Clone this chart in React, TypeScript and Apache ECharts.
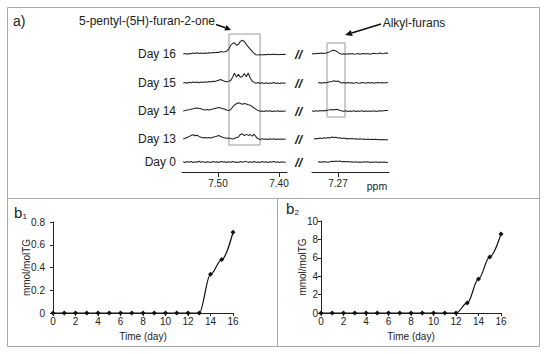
import React, { useEffect, useRef } from 'react';
import * as echarts from 'echarts';

// ---------- Panel a) : 1H NMR traces ----------
const DAY_LABELS = ['Day 16', 'Day 15', 'Day 14', 'Day 13', 'Day 0'];
const LEFT_TICKS = [7.5, 7.4];
const RIGHT_TICKS = [7.27];
const LEFT_PPM = [7.557, 7.389]; // first / last sample of the left window
const RIGHT_PPM = [7.3126, 7.188]; // first / last sample of the right window

// intensities (left window 7.56 – 7.39 ppm)
const LEFT_D16 = [0, 0.5, -0.3, 0.6, 0.2, 1.0, 0.5, 1.2, 0.6, 0.9,
  0.4, 1.1, 0.7, 1.3, 1.0, 1.6, 1.2, 1.8, 1.5, 2.4,
  1.9, 2.2, 2.8, 4.5, 8.5, 10.5, 11.2, 8.8, 9.5, 12.6,
  13.8, 12.5, 9.6, 7.2, 4.8, 2.6, 0.6, -0.8, -1.0, -0.6,
  -0.9, -0.4, -0.8, -0.3, -0.7, -0.2, -0.6, -0.3, -0.8, -0.4,
  -0.5, -0.2, -0.6];
const LEFT_D15 = [0, 0.6, -0.2, 0.8, 0.3, 1.0, 0.4, 0.9, 0.2, 1.1,
  0.6, 1.3, 0.8, 1.5, 1.0, 1.8, 1.4, 2.2, 2.8, 3.4,
  2.6, 1.8, 1.2, 1.6, 2.4, 5.5, 9.8, 6.0, 8.8, 5.8,
  6.5, 9.4, 6.2, 10.0, 5.0, 1.8, 0.6, -0.2, 0.4, -0.5,
  0.3, -0.4, 0.2, -0.6, 0.1, -0.3, 0.4, -0.5, 0.0, -0.4,
  0.2, -0.3, 0.1];
const LEFT_D14 = [0, 0.4, 0.9, 1.3, 1.8, 2.2, 2.8, 3.0, 2.6, 2.2,
  1.6, 1.1, 1.4, 0.9, 1.6, 2.0, 2.6, 3.0, 3.4, 3.0,
  2.4, 1.8, 1.0, 0.6, 1.2, 3.8, 6.0, 7.2, 8.2, 7.6,
  6.8, 7.5, 7.0, 6.2, 5.8, 4.4, 3.0, 1.6, 0.4, -0.2,
  0.1, -0.4, 0.2, -0.3, 0.3, -0.5, 0.0, -0.3, 0.2, -0.4,
  0.1, -0.2, 0.0];
const LEFT_D13 = [0, 0.8, 1.6, 2.4, 3.6, 4.2, 3.2, 3.8, 2.6, 1.8,
  1.2, 1.6, 0.9, 1.4, 1.0, 1.8, 2.2, 2.8, 3.4, 2.6,
  1.8, 1.2, 0.8, 1.0, 0.4, 0.0, 0.6, 1.4, 2.0, 4.6,
  5.2, 3.4, 4.6, 3.6, 4.4, 2.8, 4.8, 2.0, 0.2, -0.4,
  0.2, -0.3, 0.1, -0.5, 0.2, -0.2, 0.3, -0.4, 0.0, -0.3,
  0.1, -0.2, 0.0];
const LEFT_D0 = [0.3, -0.4, 0.5, -0.2, 0.6, -0.5, 0.2, -0.3, 0.7, -0.2,
  0.4, -0.6, 0.3, 0.1, -0.4, 0.5, -0.3, 0.2, -0.5, 0.6,
  -0.1, 0.3, -0.4, 0.2, -0.3, 0.5, -0.2, 0.1, -0.5, 0.4,
  -0.3, 0.2, 0.6, -0.4, 0.3, -0.2, 0.5, -0.3, 0.1, -0.4,
  0.4, -0.2, 0.3, -0.5, 0.2, -0.1, 0.4, -0.3, 0.2, -0.4,
  0.3, -0.2, 0.1];

// intensities (right window 7.31 – 7.19 ppm)
const RIGHT_D16 = [0, 0.5, 0.2, 0.8, 0.4, 0.9, 0.6, 1.0, 1.4, 2.4,
  3.4, 3.8, 3.0, 1.6, 0.4, -0.2, 0.3, -0.3, 0.2, -0.1,
  0.4, -0.2, 0.1, 0.5, -0.3, 0.2, 0.6, 0.1, 0.4, -0.2,
  0.3, 0.7, 0.2, 0.5, 0.9, 0.3, 0.6, 1.0, 0.8];
const RIGHT_D15 = [null, null, null, 0, 0.4, -0.2, 0.5, 0.3, 0.8, 1.2,
  1.6, 2.2, 1.4, 2.0, 0.6, -0.1, 0.4, -0.3, 0.5, 0.0,
  0.3, -0.4, 0.6, 0.1, -0.2, 0.5, 0.2, -0.3, 0.4, 0.0,
  0.5, -0.2, 0.3, 0.6, 0.0, 0.4, -0.1, 0.3, 0.5];
const RIGHT_D14 = [0, -0.3, 0.2, -0.2, 0.4, 0.1, 0.6, 0.3, 0.9, 1.2,
  1.6, 1.0, 1.8, 1.2, 0.5, 0.1, -0.3, 0.2, -0.4, 0.0,
  -0.2, 0.3, -0.4, 0.1, -0.2, 0.2, -0.5, 0.0, -0.3, 0.1,
  -0.2, 0.2, -0.4, 0.0, 0.3, -0.1, 0.2, 0.4, 0.5];
const RIGHT_D13 = [null, 0, 0.6, 0.3, 1.0, 0.5, 1.3, 0.8, 1.6, 1.1,
  2.0, 1.4, 1.8, 0.9, 1.2, 0.5, 0.9, 0.3, 0.6, 0.2,
  0.4, 0.0, 0.3, -0.2, 0.2, -0.3, 0.1, -0.4, 0.0, -0.5,
  -0.2, -0.6, -0.3, -0.7, -0.4, -0.8, -0.5, -0.9, -0.6];
const RIGHT_D0 = [null, null, null, 0, 0.3, -0.2, 0.4, 0.1, -0.3, 0.2,
  0.8, 0.4, 1.0, 0.5, 0.9, 0.3, 0.6, 0.2, 0.5, 0.0,
  0.3, -0.2, 0.2, -0.3, 0.1, -0.2, 0.3, -0.1, 0.2, -0.4,
  0.0, -0.3, 0.2, -0.4, -0.1, -0.3, 0.1, -0.4, -0.2];

// highlighted regions [ppm from, ppm to]
const BOX_LEFT_PPM = [7.482, 7.431];
const BOX_RIGHT_PPM = [7.288, 7.2585];

// ---------- Panels b1 / b2 ----------
const DAYS = [0, 1, 2, 3, 4, 5, 6, 7, 8, 9, 10, 11, 12, 13, 14, 15, 16];
const B1_VALUES = [0, 0, 0, 0, 0, 0, 0, 0, 0, 0, 0, 0, 0, 0, 0.34, 0.47, 0.71];
const B2_VALUES = [0, 0, 0, 0, 0, 0, 0, 0, 0, 0, 0, 0, 0, 1.09, 3.7, 6.1, 8.6];

// ---------- layout ----------
const ROW_OFFSETS = [118, 89, 61, 33, 10]; // vertical stacking of traces (axis units = px)
const SPEC_TOP = 30;
const SPEC_H = 142;
const FONT = '"Liberation Sans", Arial, sans-serif';
const INK = '#222';
const FRAME = '#a8a8a8';

function ppmGrid(range: number[], n: number) {
  const out: number[] = [];
  for (let i = 0; i < n; i++) out.push(range[0] + (range[1] - range[0]) * i / (n - 1));
  return out;
}

function traceData(vals: (number | null)[], range: number[], off: number) {
  const xs = ppmGrid(range, vals.length);
  return vals.map((v, i) => [xs[i], v == null ? '-' : off + v]);
}

function txt(x: number, y: number, text: string, size: number, align = 'left', extra: any = {}) {
  return {
    type: 'text', x, y, silent: true,
    style: {
      text, fontSize: size, fontFamily: FONT, fill: INK,
      align, verticalAlign: 'middle', textAlign: align, textVerticalAlign: 'middle',
      ...extra,
    },
  };
}

function line(x1: number, y1: number, x2: number, y2: number, stroke = FRAME, w = 1) {
  return { type: 'line', silent: true, shape: { x1, y1, x2, y2 }, style: { stroke, lineWidth: w } };
}

export default function App() {
  const ref = useRef<HTMLDivElement>(null);
  useEffect(() => {
    if (!ref.current) return;
    const chart = echarts.init(ref.current, null, { renderer: 'svg' });

    const leftSets = [LEFT_D16, LEFT_D15, LEFT_D14, LEFT_D13, LEFT_D0];
    const rightSets = [RIGHT_D16, RIGHT_D15, RIGHT_D14, RIGHT_D13, RIGHT_D0];
    const specLine = { color: '#222', width: 1.05 };
    const boxStyle = { color: 'rgba(0,0,0,0)', borderColor: '#9a9a9a', borderWidth: 1 };

    const series: any[] = [];
    leftSets.forEach((s, k) => {
      const ser: any = {
        type: 'line', xAxisIndex: 0, yAxisIndex: 0, symbol: 'none',
        lineStyle: specLine, data: traceData(s, LEFT_PPM, ROW_OFFSETS[k]), silent: true,
      };
      if (k === 0) {
        ser.markArea = {
          silent: true, itemStyle: boxStyle,
          data: [[{ xAxis: BOX_LEFT_PPM[0], yAxis: 27 }, { xAxis: BOX_LEFT_PPM[1], yAxis: 138 }]],
        };
      }
      series.push(ser);
    });
    rightSets.forEach((s, k) => {
      const ser: any = {
        type: 'line', xAxisIndex: 1, yAxisIndex: 1, symbol: 'none',
        lineStyle: specLine, data: traceData(s, RIGHT_PPM, ROW_OFFSETS[k]), silent: true,
      };
      if (k === 0) {
        ser.markArea = {
          silent: true, itemStyle: boxStyle,
          data: [[{ xAxis: BOX_RIGHT_PPM[0], yAxis: 55 }, { xAxis: BOX_RIGHT_PPM[1], yAxis: 129 }]],
        };
      }
      series.push(ser);
    });
    const kinLine = (vals: number[], idx: number) => ({
      type: 'line', xAxisIndex: idx, yAxisIndex: idx,
      data: DAYS.map((d, i) => [d, vals[i]]),
      smooth: 0.35, smoothMonotone: 'x',
      symbol: 'diamond', symbolSize: 5,
      itemStyle: { color: '#111' },
      lineStyle: { color: '#111', width: 1.2 },
      silent: true,
    });
    series.push(kinLine(B1_VALUES, 2));
    series.push(kinLine(B2_VALUES, 3));

    const specX = (ticks: number[]) => ({
      type: 'value', inverse: true,
      axisLine: { show: true, onZero: false, lineStyle: { color: INK, width: 1 } },
      axisTick: { show: true, customValues: ticks, length: 5, lineStyle: { color: INK } },
      axisLabel: {
        show: true, customValues: ticks, margin: 6, fontSize: 10, fontFamily: FONT, color: INK,
        formatter: (v: number) => v.toFixed(2),
      },
      splitLine: { show: false },
    });
    const specY = { type: 'value', min: 0, max: SPEC_H, show: false };

    const kinX = {
      type: 'value', min: 0, max: 16, interval: 2,
      name: 'Time (day)', nameLocation: 'middle', nameGap: 18, nameMoveOverlap: false,
      nameTextStyle: { fontSize: 10, fontFamily: FONT, color: INK },
      axisLine: { onZero: false, lineStyle: { color: INK } },
      axisTick: { show: true, length: 3, lineStyle: { color: INK } },
      axisLabel: { fontSize: 10, fontFamily: FONT, color: INK, margin: 3 },
      splitLine: { show: false },
    };
    const kinY = (max: number, interval: number, gap: number, margin: number) => ({
      type: 'value', min: 0, max, interval,
      name: 'mmol/molTG', nameLocation: 'middle', nameRotate: 90, nameGap: gap,
      nameMoveOverlap: false,
      nameTextStyle: { fontSize: 10, fontFamily: FONT, color: INK },
      axisLine: { show: true, lineStyle: { color: INK } },
      axisTick: { show: true, length: 3, lineStyle: { color: INK } },
      axisLabel: { fontSize: 10, fontFamily: FONT, color: INK, margin },
      splitLine: { show: false },
    });

    const graphic: any[] = [
      // frames
      { type: 'rect', silent: true, shape: { x: 7.5, y: 7.5, width: 532, height: 339 },
        style: { fill: 'none', stroke: FRAME, lineWidth: 1 } },
      line(7.5, 198.5, 539.5, 198.5),
      line(277.5, 198.5, 277.5, 346.5),
      // panel a labels
      txt(13, 21, 'a)', 14),
      txt(147, 21, '5-pentyl-(5H)-furan-2-one', 12, 'center'),
      txt(414, 23, 'Alkyl-furans', 12, 'center'),
      txt(377, 186, 'ppm', 10.5, 'center'),
      // arrows
      line(216, 24.5, 225.4, 27.8, '#111', 1.6),
      { type: 'polygon', silent: true, shape: { points: [[231, 30], [224.3, 30.6], [226.5, 25]] },
        style: { fill: '#111' } },
      line(381, 24, 351.7, 33, '#111', 1.6),
      { type: 'polygon', silent: true, shape: { points: [[345, 35], [352.7, 36], [350.8, 29.9]] },
        style: { fill: '#111' } },
      // panel b labels
      txt(14, 212, 'b', 15),
      txt(22.5, 216, '1', 8),
      txt(286, 208, 'b', 15),
      txt(294.5, 212, '2', 8),
    ];
    DAY_LABELS.forEach((lab, k) => {
      const y = SPEC_TOP + SPEC_H - ROW_OFFSETS[k];
      graphic.push(txt(176, y, lab, 12, 'right'));
      graphic.push(txt(298.5, y + 0.5, '//', 13, 'center', { fontWeight: 'bold', fontStyle: 'italic' }));
    });

    chart.setOption({
      animation: false,
      backgroundColor: '#fff',
      textStyle: { fontFamily: FONT },
      grid: [
        { left: 182, top: SPEC_TOP, width: 105, height: SPEC_H },
        { left: 312, top: SPEC_TOP, width: 77, height: SPEC_H },
        { left: 53, top: 222, width: 180, height: 91 },
        { left: 321, top: 221, width: 180, height: 92 },
      ],
      xAxis: [
        { gridIndex: 0, ...specX(LEFT_TICKS), min: 7.38689, max: 7.55902 },
        { gridIndex: 1, ...specX(RIGHT_TICKS), min: 7.18639, max: 7.31262 },
        { gridIndex: 2, ...kinX },
        { gridIndex: 3, ...kinX },
      ],
      yAxis: [
        { gridIndex: 0, ...specY },
        { gridIndex: 1, ...specY },
        { gridIndex: 2, ...kinY(0.8, 0.2, 22, 8) },
        { gridIndex: 3, ...kinY(10, 2, 14, 3) },
      ],
      series,
      graphic,
    });
    return () => chart.dispose();
  }, []);

  return (
    <div
      ref={ref}
      style={{ position: 'fixed', left: 0, top: 0, width: 550, height: 354, background: '#fff' }}
    />
  );
}
